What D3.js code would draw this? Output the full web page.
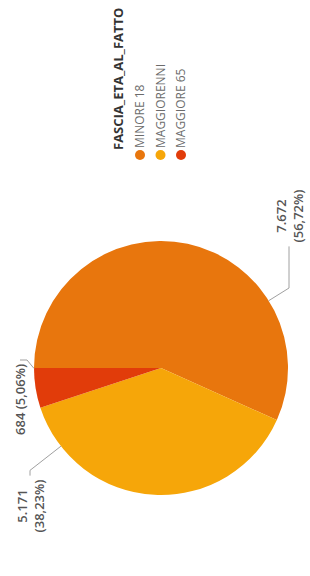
<!DOCTYPE html>
<html>
<head>
<meta charset="utf-8">
<script src="https://cdn.jsdelivr.net/npm/d3@7"></script>
<style>
  body { margin: 0; background: #fff; }
  text { font-family: "Open Sans", "Noto Sans", sans-serif; }
</style>
</head>
<body>
<svg id="chart" width="310" height="576"></svg>
<script>
var categories = ["MINORE 18", "MAGGIORENNI", "MAGGIORE 65"];
var values = [7672, 5171, 684];
var valueLabels = ["7.672", "5.171", "684"];
var percentLabels = ["56,72%", "38,23%", "5,06%"];
var colors = ["#e8760d", "#f6a609", "#e13c0a"];
var legendTitle = "FASCIA_ETA_AL_FATTO";

var svg = d3.select("#chart"),
    width = +svg.attr("width"),
    height = +svg.attr("height");

// the whole report is turned a quarter to the left, so draw it landscape and rotate
var g = svg.append("g")
    .attr("transform", "translate(0," + height + ") rotate(-90)");

var cx = 208, cy = 161, r = 127;

var color = d3.scaleOrdinal().domain(categories).range(colors);

var pie = d3.pie().sort(null).value(function(d){ return d; });
var arcs = pie(values);
var arc = d3.arc().innerRadius(0).outerRadius(r);

var pg = g.append("g").attr("transform", "translate(" + cx + "," + cy + ")");

pg.selectAll(".slice").data(arcs)
  .enter()
  .append("path")
  .attr("class", "slice")
  .attr("d", arc)
  .attr("fill", function(d, i){ return color(categories[i]); });

function pt(a, rad){ return [rad * Math.sin(a), -rad * Math.cos(a)]; }
var deg = Math.PI / 180;

// label spots relative to the pie centre, roughly where power bi dropped them
var labelSpot = {
  "MINORE 18":   { x: 152, y: 128, anchor: "middle", at: 148 },
  "MAGGIORENNI": { x: -138, y: -131, anchor: "middle", at: 322 },
  "MAGGIORE 65": { x: 4, y: -141, anchor: "end", at: 359.8 }
};

arcs.forEach(function(d, i){
  var spot = labelSpot[categories[i]];
  var a = spot.at * deg;
  var p0 = pt(a, r), p1, edge;

  var t = pg.append("text")
    .attr("text-anchor", spot.anchor)
    .attr("fill", "#555")
    .attr("font-size", 13)
    .attr("font-weight", 600);

  if (spot.anchor == "end") {
    t.attr("x", spot.x).attr("y", spot.y).attr("dy", "0.35em")
      .text(valueLabels[i] + " (" + percentLabels[i] + ")");
    edge = [spot.x + 4, spot.y];
    p1 = [edge[0], edge[1] + 7];
  } else {
    t.append("tspan").attr("x", spot.x).attr("y", spot.y).attr("dy", "-0.25em").text(valueLabels[i]);
    t.append("tspan").attr("x", spot.x).attr("dy", "1.3em").text("(" + percentLabels[i] + ")");
    var w = t.node().getBBox().width;
    edge = [spot.x + (spot.x > 0 ? -1 : 1) * (w / 2 + 4), spot.y];
    // elbow where the radial line meets the label's centre line
    var rho = spot.y / (-Math.cos(a));
    p1 = pt(a, Math.max(rho, r + 8));
  }

  pg.insert("polyline", "text")
    .attr("points", [p0, p1, edge].map(function(p){ return p.join(","); }).join(" "))
    .attr("fill", "none")
    .attr("stroke", "#a0a0a0")
    .attr("stroke-width", 1);
});

// legend
var lg = g.append("g").attr("transform", "translate(426,0)");
lg.append("text")
  .attr("x", 0)
  .attr("y", 123)
  .attr("fill", "#333")
  .attr("font-size", 13)
  .attr("font-weight", 700)
  .text(legendTitle);

var items = lg.selectAll(".item").data(categories)
  .enter()
  .append("g")
  .attr("class", "item")
  .attr("transform", function(d, i){ return "translate(-5," + (140 + i * 20.5) + ")"; });

items.append("circle")
  .attr("r", 5)
  .attr("fill", function(d){ return color(d); });

items.append("text")
  .attr("x", 7)
  .attr("dy", "0.35em")
  .attr("fill", "#6b6b6b")
  .attr("font-size", 12)
  .text(function(d){ return d; });
</script>
</body>
</html>
